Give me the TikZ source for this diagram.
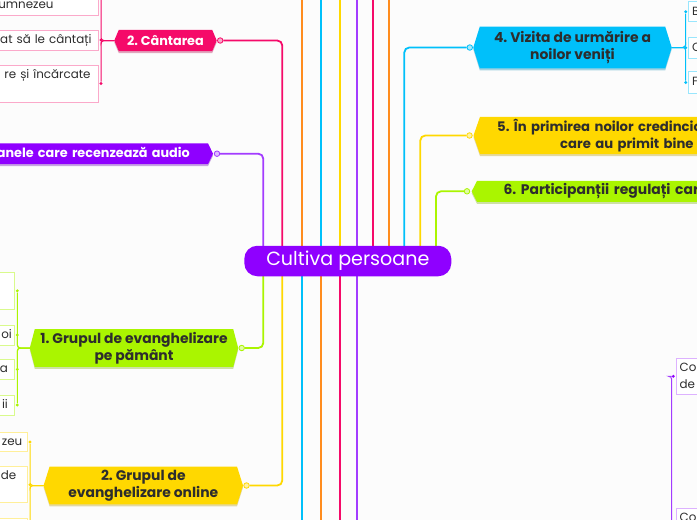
\documentclass[tikz,border=0pt]{standalone}
\usepackage{fontspec}
\setmainfont{Poppins}
\frenchspacing
\usetikzlibrary{backgrounds}
\definecolor{bgc}{RGB}{252,252,252}
\definecolor{purp}{RGB}{143,0,255}
\definecolor{purpL}{RGB}{163,60,255}
\definecolor{pinkc}{RGB}{245,10,105}
\definecolor{orng}{RGB}{255,140,30}
\definecolor{cyanc}{RGB}{0,192,250}
\definecolor{yelc}{RGB}{255,216,0}
\definecolor{grnc}{RGB}{170,245,0}
\definecolor{txt}{RGB}{45,45,45}
\colorlet{pinkL}{pinkc!35!white}
\colorlet{grnL}{grnc!45!white}
\colorlet{yelL}{yelc!40!white}
\colorlet{cyanL}{cyanc!40!white}
\colorlet{purL}{purp!30!white}
\newcommand{\myhex}[3]{%
  \fill[#2!70!black, opacity=.35] ([yshift=-2pt]#1.north west) -- ([yshift=-2pt]#1.north east) -- ([xshift=#3pt,yshift=-2pt]#1.east) -- ([yshift=-2pt]#1.south east) -- ([yshift=-2pt]#1.south west) -- ([xshift=-#3pt,yshift=-2pt]#1.west) -- cycle;
  \fill[#2] (#1.north west) -- (#1.north east) -- ([xshift=#3pt]#1.east) -- (#1.south east) -- (#1.south west) -- ([xshift=-#3pt]#1.west) -- cycle;}
\begin{document}
\begin{tikzpicture}[x=1pt,y=-1pt,
  central/.style={fill=purp, text=white, rounded corners=13pt, minimum width=207pt, minimum height=30.5pt, inner sep=0pt, font=\fontsize{19.1}{21}\selectfont},
  hexn/.style={inner sep=0pt, align=center, font=\bfseries\fontsize{13.9}{17.2}\selectfont, text=txt},
  hexs/.style={hexn, font=\bfseries\fontsize{12.8}{17}\selectfont, text=white},
  kid/.style={draw=#1, fill=white, line width=0.8pt, inner ysep=0pt, font=\fontsize{11.9}{17}\selectfont, text=txt},
  lkid/.style={kid=#1, anchor=east, text width=150pt, align=right},
  rkid/.style={kid=#1, anchor=west, text width=100pt, align=left},
  ring/.style={circle, draw=#1, fill=#1!35!white, line width=0.8pt, inner sep=0pt, minimum size=5.5pt},
  kdot/.style={circle, fill=#1, inner sep=0pt, minimum size=3.2pt},
  br/.style={draw=#1, line width=1.8pt, rounded corners=5pt},
  kl/.style={draw=#1, line width=1pt, rounded corners=3pt},
]
\begin{pgfonlayer}{background}
\fill[bgc] (0,0) rectangle (697,520);
\end{pgfonlayer}
\useasboundingbox (0,0) rectangle (697,520);

% central
\node[central] (cen) at (347.8,261) {Cultiva persoane};

% main branch nodes
\node[hexs, minimum width=93pt, minimum height=21pt] (can) at (165.5,40.5) {2. Cântarea};
\node[hexs, anchor=east, text width=232pt, align=right, inner xsep=18pt, minimum height=20.5pt] (aud) at (208,153.7) {panele care recenzează audio};
\node[hexn, minimum width=198pt, minimum height=37.5pt] (g1) at (134,348) {1. Grupul de evanghelizare\\pe pământ};
\node[hexn, minimum width=187pt, minimum height=37.5pt] (g2) at (143.3,485.5) {2. Grupul de\\evanghelizare online};
\node[hexn, minimum width=185pt, minimum height=41.5pt] (v4) at (572.5,47.5) {4. Vizita de urmărire a\\noilor veniți};
\node[hexn, font=\bfseries\fontsize{13.2}{17.4}\selectfont, anchor=west, text width=300pt, align=left, inner xsep=17pt, minimum height=37pt] (n5) at (480,135.5) {5. În primirea noilor credincio\\\hspace*{63pt}care au primit bine};
\node[hexn, anchor=west, text width=300pt, align=left, inner xsep=26.3pt, minimum height=20.5pt] (n6) at (477,191.3) {6. Participanții regulați car};

% connector rings
\node[ring=pinkc] (cand) at ([xshift=8pt]can.east) {};
\node[ring=purpL] (audd) at ([xshift=9pt]aud.east) {};
\node[ring=grnc] (g1d) at ([xshift=8.5pt]g1.east) {};
\node[ring=yelc] (g2d) at ([xshift=9.5pt]g2.east) {};
\node[ring=cyanc] (v4d) at ([xshift=-10pt]v4.west) {};
\node[ring=yelc] (n5d) at ([xshift=-10.5pt]n5.west) {};
\node[ring=grnc] (n6d) at ([xshift=-10pt]n6.west) {};

% child boxes
\node[lkid=pinkL, inner xsep=45pt, minimum height=37pt] (p1) at (99,-3.5) {\strut\\\strut umnezeu};
\node[lkid=pinkL, inner xsep=7pt, minimum height=20pt] (p2) at (99,40) {\strut at să le cântați};
\node[lkid=pinkL, inner xsep=8pt, minimum height=37pt] (p3) at (99,83.5) {\strut re și încărcate\\\strut};

\node[lkid=grnL, inner xsep=4pt, minimum height=37pt] (r1) at (14.3,290.8) {};
\node[lkid=grnL, inner xsep=2pt, minimum height=20pt] (r2) at (14.3,335) {\strut oi};
\node[lkid=grnL, inner xsep=6pt, minimum height=20pt] (r3) at (14.3,369.3) {\strut a};
\node[lkid=grnL, inner xsep=6pt, minimum height=20pt] (r4) at (14.3,405) {\strut ii};

\node[lkid=yelL, inner xsep=4.6pt, minimum height=19.5pt] (y1) at (27.3,442) {\strut zeu};
\node[lkid=yelL, inner xsep=10.6pt, minimum height=36pt] (y2) at (27.3,484.7) {\strut de\\\strut};
\node[lkid=yelL, inner xsep=5pt, minimum height=36pt] (y3) at (27.3,536.3) {};

\node[rkid=cyanL, inner xsep=4pt, minimum height=20pt] (c1) at (687.7,11.7) {\strut B};
\node[rkid=cyanL, inner xsep=4pt, minimum height=21pt] (c2) at (687.7,47.8) {\strut C};
\node[rkid=cyanL, inner xsep=4pt, minimum height=21.6pt] (c3) at (687.7,82.5) {\strut F};

\node[rkid=purL, inner xsep=3.6pt, minimum height=36pt] (u1) at (675.7,376.3) {\strut Co\\\strut de};
\node[rkid=purL, inner xsep=3.6pt, minimum height=36pt] (u2) at (675.7,526.3) {\strut Co\\\strut};

% free ends off the canvas
\coordinate (t1) at (301.7,-10);
\coordinate (t2) at (320.7,-10);
\coordinate (t3) at (339.7,-10);
\coordinate (t4) at (357,-10);
\coordinate (t5) at (373,-10);
\coordinate (t6) at (388.7,-10);
\coordinate (b1) at (301.7,530);
\coordinate (b2) at (320.7,530);
\coordinate (b3) at (339.7,530);
\coordinate (b4) at (357,530);
\coordinate (pb) at (671.7,560);

% child dots
\foreach \k in {p1,p2,p3} \node[kdot=pinkc] (\k-d) at ([xshift=2pt]\k.east) {};
\foreach \k in {r1,r2,r3,r4} \node[kdot=grnc] (\k-d) at ([xshift=3pt]\k.east) {};
\foreach \k in {y1,y2,y3} \node[kdot=yelc] (\k-d) at ([xshift=2.7pt]\k.east) {};
\foreach \k in {c1,c2,c3} \node[kdot=cyanc] (\k-d) at ([xshift=-2pt]\k.west) {};
\foreach \k in {u1,u2} \node[kdot=purp] (\k-d) at ([xshift=-2.4pt]\k.west) {};

\begin{pgfonlayer}{background}
% shapes
\myhex{can}{pinkc}{4.5}
\myhex{aud}{purp}{5}
\myhex{g1}{grnc}{5}
\myhex{g2}{yelc}{6}
\myhex{v4}{cyanc}{6.5}
\myhex{n5}{yelc}{6.5}
\myhex{n6}{grnc}{5.3}
% main branches
\draw[br=purpL] ([xshift=-84.5pt]cen.center) |- (audd);
\draw[br=pinkc] ([xshift=-65.5pt]cen.center) |- (cand);
\draw[br=grnc] ([xshift=-84.5pt]cen.center) |- (g1d);
\draw[br=yelc] ([xshift=-65.5pt]cen.center) |- (g2d);
\draw[br=cyanc] ([xshift=56.5pt]cen.center) |- (v4d);
\draw[br=yelc] ([xshift=72.5pt]cen.center) |- (n5d);
\draw[br=grnc] ([xshift=88.2pt]cen.center) |- (n6d);
\draw[br=orng] ([xshift=-46.1pt]cen.center) -- (t1);
\draw[br=cyanc] ([xshift=-27.1pt]cen.center) -- (t2);
\draw[br=yelc] ([xshift=-8.1pt]cen.center) -- (t3);
\draw[br=purpL] ([xshift=9.2pt]cen.center) -- (t4);
\draw[br=pinkc] ([xshift=25.2pt]cen.center) -- (t5);
\draw[br=orng] ([xshift=40.9pt]cen.center) -- (t6);
\draw[br=cyanc] ([xshift=-46.1pt]cen.center) -- (b1);
\draw[br=orng] ([xshift=-27.1pt]cen.center) -- (b2);
\draw[br=pinkc] ([xshift=-8.1pt]cen.center) -- (b3);
\draw[br=purpL] ([xshift=9.2pt]cen.center) -- (b4);
% child links
\foreach \k in {p1,p2,p3} \draw[kl=pinkc] ([xshift=-4.5pt]can.west) -| (\k-d);
\foreach \k in {r1,r2,r3,r4} \draw[kl=grnc] ([xshift=-5pt]g1.west) -| (\k-d);
\foreach \k in {y1,y2,y3} \draw[kl=yelc] ([xshift=-6pt]g2.west) -| (\k-d);
\foreach \k in {c1,c2,c3} \draw[kl=cyanc] ([xshift=6.5pt]v4.east) -| (\k-d);
\foreach \k in {u1,u2} \draw[kl=purpL] (pb) |- (\k-d);
\end{pgfonlayer}
\end{tikzpicture}
\end{document}
